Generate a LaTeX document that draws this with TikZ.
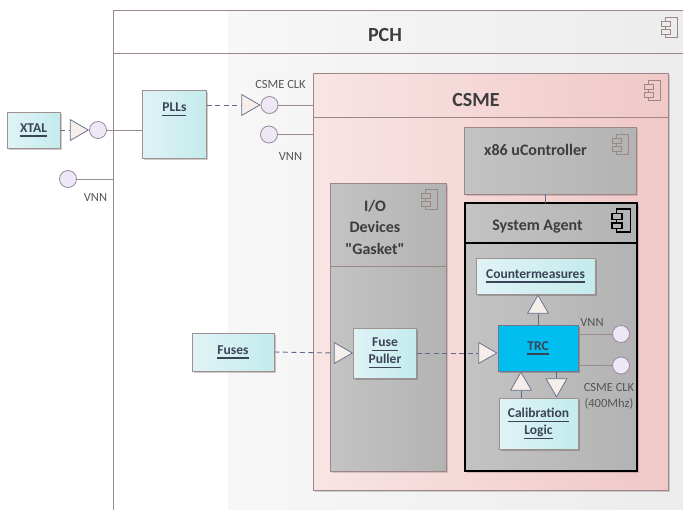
\documentclass[tikz,border=0pt]{standalone}
\usepackage{fontspec}
\setmainfont{Carlito}[Ligatures=TeXOff]
\usetikzlibrary{positioning,shapes.geometric,shadows}

\definecolor{framec}{HTML}{9C8686}
\definecolor{linec}{HTML}{9A8C8C}
\definecolor{dashc}{HTML}{5E6B88}
\definecolor{txtc}{HTML}{3D3D3D}
\definecolor{lblc}{HTML}{555555}
\definecolor{insttxt}{HTML}{3B4457}
\definecolor{instd}{HTML}{A09090}
\definecolor{trif}{HTML}{F6EEEA}
\definecolor{trid}{HTML}{6B7690}
\definecolor{portf}{HTML}{EDE7F6}
\definecolor{portd}{HTML}{9A8A9E}
\definecolor{cyanA}{HTML}{E0F3F6}
\definecolor{cyanB}{HTML}{C4EBEC}
\definecolor{trcc}{HTML}{00BFF0}
\definecolor{pinkA}{HTML}{F9E4E4}
\definecolor{pinkB}{HTML}{F0C8C8}
\definecolor{grayA}{HTML}{C3C3C3}
\definecolor{grayB}{HTML}{B3B3B3}
\definecolor{pchA}{HTML}{F7F7F7}
\definecolor{pchB}{HTML}{ECECEC}

% underlined instance names
\newcommand\undl[1]{\leavevmode\vtop{\hbox{#1\vphantom{g}}\kern0.9pt\hrule height 1.1pt}}

\tikzset{compicon/.pic={
  \draw[pic actions, fill=none] (-4,-10) rectangle (8,10);
  \draw[pic actions] (-8,-6) rectangle (1,-1);
  \draw[pic actions] (-8,2) rectangle (1,7);
}}

\begin{document}
\begin{tikzpicture}[x=1pt, y=-1pt,
    frame/.style={draw=framec, line width=0.9pt, inner sep=0pt, outer sep=0pt},
    frameline/.style={draw=framec, line width=0.9pt},
    comp/.style={frame, left color=grayA, right color=grayB,
      drop shadow={shadow xshift=1.5pt, shadow yshift=-1.5pt, fill=black, opacity=.15}},
    insttext/.style={inner sep=0pt, align=center, text=insttxt,
      font=\fontsize{13.5}{17}\selectfont\bfseries},
    inst/.style={insttext, draw=instd, line width=0.8pt, left color=cyanA, right color=cyanB,
      drop shadow={shadow xshift=1.5pt, shadow yshift=-1.5pt, fill=black, opacity=.2}},
    title/.style={font=\fontsize{20}{24}\selectfont\bfseries, text=txtc},
    comptitle/.style={font=\fontsize{16}{21.5}\selectfont\bfseries, text=txtc, align=center},
    lbl/.style={font=\fontsize{12.5}{16}\selectfont, text=lblc, align=center},
    port/.style={circle, draw=portd, fill=portf, line width=0.8pt, minimum size=17pt, inner sep=0pt},
    tri/.style={regular polygon, regular polygon sides=3, draw=trid, fill=trif,
      line width=0.8pt, minimum size=24pt, inner sep=0pt},
    dashline/.style={draw=dashc, line width=0.9pt, dash pattern=on 5pt off 3.5pt},
    wire/.style={draw=linec, line width=0.9pt},
    link/.style={draw=dashc, line width=0.8pt}
  ]
  \useasboundingbox (0,0) rectangle (683,509);
  \clip (0,0) rectangle (683,509);
  \fill[white] (0,0) rectangle (683,509);
  \fill[left color=pchA, right color=pchB] (228,10) rectangle (683,509);

  % PCH
  \node[frame, anchor=north west, minimum width=640, minimum height=540] (pch) at (113,10) {};
  \draw[frameline] ([yshift=-43pt]pch.north west) -- ([yshift=-43pt]pch.north east);
  \node[title] (pchtitle) at (385,35) {PCH};
  \pic[draw=framec, fill=pchB, line width=0.9pt] at (669,27.5) {compicon};

  % CSME
  \node[frame, anchor=north west, minimum width=355, minimum height=417,
        left color=pinkA, right color=pinkB,
        drop shadow={shadow xshift=2pt, shadow yshift=-2pt, fill=black, opacity=.15}]
        (csme) at (313,73) {};
  \draw[frameline] ([yshift=-44pt]csme.north west) -- ([yshift=-44pt]csme.north east);
  \node[title] (csmetitle) at (476,100) {CSME};
  \pic[draw=framec, fill=pinkB, line width=0.9pt] at (652.5,90) {compicon};

  % components inside CSME
  \node[comp, anchor=north west, minimum width=172, minimum height=67] (x86) at (464,127) {};
  \node[comptitle] (x86title) at (535.5,150) {x86 uController};
  \pic[draw=framec, fill=grayB, line width=0.9pt] at (620.5,144) {compicon};

  \node[comp, anchor=north west, minimum width=116, minimum height=288] (io) at (330,183) {};
  \draw[frameline] ([yshift=-83pt]io.north west) -- ([yshift=-83pt]io.north east);
  \node[comptitle] (iotitle) at (375,227) {I/O\\Devices\\"Gasket"};
  \pic[draw=framec, fill=grayB, line width=0.9pt] at (429.5,199.5) {compicon};

  \node[comp, draw=black, line width=1.5pt, anchor=north west, minimum width=172, minimum height=268] (sa) at (465,203) {};
  \draw[draw=black, line width=1.2pt] ([yshift=-40pt]sa.north west) -- ([yshift=-40pt]sa.north east);
  \node[comptitle] (satitle) at (537.5,227) {System Agent};
  \pic[draw=black, fill=grayB, line width=1.4pt, scale=1.15] at (621,220.5) {compicon};

  \draw[link] ([xshift=-5pt]x86.south) -- ([xshift=-5pt]x86.south |- sa.north);

  % instances
  \node[inst, minimum width=53, minimum height=36] (xtal) at (33.5,130) {\undl{XTAL}};
  \node[inst, anchor=north west, minimum width=64, minimum height=68] (pll) at (142,90) {};
  \node[insttext, below=13pt of pll.north] (plltext) {\undl{PLLs}};
  \node[inst, minimum width=82, minimum height=38] (fuses) at (233,352) {\undl{Fuses}};
  \node[inst, minimum width=63, minimum height=50] (fp) at (385,353) {\undl{Fuse}\\\undl{Puller}};
  \node[inst, minimum width=119, minimum height=36] (cm) at (535.5,276) {\undl{Countermeasures}};
  \node[inst, left color=trcc, right color=trcc, draw=trid, drop shadow={opacity=0},
        minimum width=80, minimum height=46] (trc) at (538,348) {\undl{TRC}};
  \node[inst, minimum width=79, minimum height=51] (cal) at (538.5,423.5) {\undl{Calibration}\\\undl{Logic}};

  % XTAL port
  \node[port] (cx) at (98,130) {};
  \node[tri, rotate=-90, anchor=corner 1] (tx) at (cx.west) {};
  \draw[dashline] (xtal.east |- tx.side 2) -- (tx.side 2);
  \draw[wire] (cx.east) -- (cx.east -| pll.west);

  % VNN outside PCH
  \node[port] (cvnn) at (68,179) {};
  \draw[wire] (cvnn.east) -- (cvnn.east -| pch.west);
  \node[lbl] (vnnA) at (95.5,197) {VNN};

  % CSME ports
  \node[port] (cclk) at (269.5,105) {};
  \node[tri, rotate=-90, anchor=corner 1] (tclk) at (cclk.west) {};
  \draw[dashline] (pll.east |- tclk.side 2) -- (tclk.side 2);
  \draw[wire] (cclk.east) -- (cclk.east -| csme.west);
  \node[lbl] (clkA) at (280.5,84) {CSME CLK};

  \node[port] (cvnn2) at (269,134.5) {};
  \draw[wire] (cvnn2.east) -- (cvnn2.east -| csme.west);
  \node[lbl] (vnnB) at (290.5,156) {VNN};

  % fuses path
  \node[tri, rotate=-90, anchor=corner 1] (tfp) at (fp.west) {};
  \draw[dashline] (fuses.east) -- (tfp.side 2);
  \node[tri, rotate=-90, anchor=corner 1] (ttrc) at (trc.west |- fp.east) {};
  \draw[dashline] (fp.east) -- (ttrc.side 2);

  % TRC links
  \node[tri, anchor=corner 1] (tcm) at (trc.north |- cm.south) {};
  \draw[link] (tcm.side 2) -- (tcm.side 2 |- trc.north);
  \node[tri, anchor=corner 1] (tup) at ([xshift=-17pt]trc.south) {};
  \draw[link] (tup.side 2) -- (tup.side 2 |- cal.north);
  \node[tri, rotate=180, anchor=corner 1] (tdn) at ([xshift=18pt]cal.north) {};
  \draw[link] (tdn.side 2) -- (tdn.side 2 |- trc.south);

  % TRC ports
  \node[port] (tvnn) at (621,334) {};
  \draw[wire] (tvnn.west -| trc.east) -- (tvnn.west);
  \node[lbl] (vnnC) at (592,322) {VNN};
  \node[port] (tclk2) at (621,365.5) {};
  \draw[wire] (tclk2.west -| trc.east) -- (tclk2.west);
  \node[lbl] (clkB) at (609,396) {CSME CLK\\(400Mhz)};
\end{tikzpicture}
\end{document}
